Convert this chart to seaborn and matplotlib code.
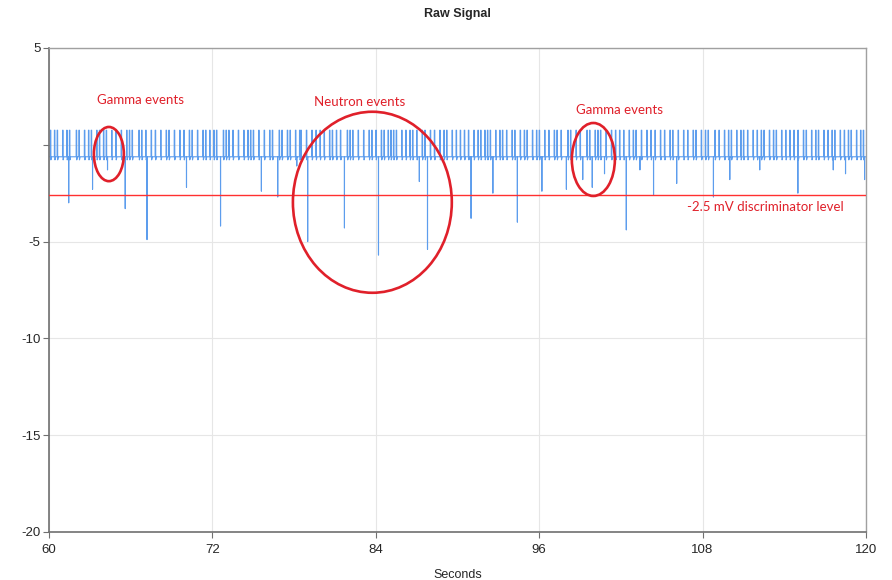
import numpy as np
import pandas as pd
import matplotlib
matplotlib.use("Agg")
import matplotlib.pyplot as plt
from matplotlib.patches import Ellipse
import seaborn as sns

# ---- data ----
baseline_mv = -0.62
undershoot_mv = -0.78
pulse_peak_mv = 0.75
pulse_times = [60.1, 60.4, 60.6, 61.0, 61.3, 61.5, 62.0, 62.2, 62.6, 62.9, 63.1, 63.5, 63.7, 64.0,
               64.2, 64.6, 64.9, 65.3, 65.7, 65.9, 66.1, 66.6, 66.8, 67.1, 67.5, 67.8, 68.2, 68.6,
               68.8, 69.2, 69.6, 69.9, 70.3, 70.5, 70.9, 71.3, 71.5, 71.8, 72.1, 72.3, 72.8, 73.0,
               73.2, 73.5, 73.9, 74.3, 74.6, 74.8, 75.0, 75.4, 75.8, 76.2, 76.4, 76.9, 77.1, 77.5,
               77.7, 78.1, 78.4, 78.5, 78.9, 79.3, 79.6, 79.9, 80.2, 80.6, 80.8, 81.1, 81.4, 81.9,
               82.1, 82.3, 82.7, 83.1, 83.5, 83.7, 84.0, 84.4, 84.6, 84.9, 85.1, 85.3, 85.5, 85.9,
               86.2, 86.5, 86.7, 87.0, 87.4, 87.6, 88.0, 88.3, 88.7, 89.0, 89.2, 89.6, 89.9, 90.2,
               90.5, 90.8, 91.2, 91.5, 91.7, 92.0, 92.2, 92.4, 92.8, 93.1, 93.3, 93.6, 94.0, 94.2,
               94.6, 94.9, 95.1, 95.5, 95.8, 96.0, 96.4, 96.7, 97.1, 97.3, 97.6, 98.1, 98.3, 98.7,
               99.0, 99.5, 99.7, 100.1, 100.3, 100.5, 100.9, 101.3, 101.6, 101.9, 102.2, 102.6,
               102.9, 103.1, 103.5, 103.9, 104.2, 104.5, 104.9, 105.2, 105.6, 105.8, 106.2, 106.6,
               106.9, 107.3, 107.5, 107.9, 108.2, 108.4, 108.9, 109.2, 109.6, 109.9, 110.1, 110.5,
               110.8, 111.0, 111.3, 111.7, 112.0, 112.3, 112.5, 112.9, 113.2, 113.4, 113.8, 114.1,
               114.4, 114.7, 115.0, 115.4, 115.6, 116.0, 116.3, 116.5, 116.9, 117.2, 117.5, 117.7,
               118.1, 118.4, 118.7, 118.9, 119.3, 119.6, 119.8]
dip_times = [61.45, 63.2, 64.3, 65.6, 67.2, 70.1, 72.6, 75.6, 76.8, 78.2, 79.0, 81.7, 84.2,
             87.2, 87.8, 91.0, 92.6, 94.4, 96.2, 98.0, 99.2, 99.9, 100.8, 102.4, 103.4, 104.4,
             106.1, 108.8, 110.0, 112.2, 115.0, 117.6, 118.5, 119.9]
dip_values = [-3.0, -2.3, -1.3, -3.3, -4.9, -2.2, -4.2, -2.4, -2.7, -1.1, -5.0, -4.3, -5.7,
              -1.9, -5.4, -3.8, -2.5, -4.0, -2.4, -2.3, -1.8, -2.2, -1.5, -4.4, -1.3, -2.6,
              -2.0, -2.7, -1.8, -1.3, -2.5, -1.3, -1.5, -1.8]
discriminator_mv = -2.6
x_ticks = [60, 72, 84, 96, 108, 120]
y_ticks = [5, 0, -5, -10, -15, -20]
y_tick_labels = ["5", "", "-5", "-10", "-15", "-20"]

# ---- build the trace from the event lists ----
pts = [(60.0, baseline_mv), (120.0, baseline_mv)]
for t in pulse_times:
    pts += [(t - 0.004, baseline_mv), (t, pulse_peak_mv), (t + 0.035, pulse_peak_mv),
            (t + 0.04, undershoot_mv), (t + 0.09, baseline_mv)]
for t, v in zip(dip_times, dip_values):
    pts += [(t - 0.12, baseline_mv), (t - 0.004, baseline_mv), (t, v), (t + 0.004, baseline_mv)]
pts.sort()
df = pd.DataFrame(pts, columns=["Seconds", "mV"])

sns.set_theme(style="white")
plt.rcParams["font.family"] = ["Liberation Sans", "DejaVu Sans"]

fig = plt.figure(figsize=(8.92, 5.8), dpi=100)
ax = fig.add_axes([0.0549, 0.0828, 0.9159, 0.8345])

ax.grid(True, color="#e6e6e6", linewidth=0.8)
ax.set_axisbelow(True)
sns.lineplot(data=df, x="Seconds", y="mV", estimator=None, sort=False, ax=ax,
             color="#5d9ded", linewidth=0.8)
ax.axhline(discriminator_mv, color="#ff3030", linewidth=1.0, zorder=5)

ax.set_xlim(60, 120)
ax.set_ylim(-20, 5)
ax.set_xticks(x_ticks)
ax.set_xticklabels([str(v) for v in x_ticks])
ax.set_yticks(y_ticks)
ax.set_yticklabels(y_tick_labels)
ax.tick_params(axis="both", labelsize=9.5, length=4, width=0.8, color="#707070",
               direction="out", bottom=True, left=True)
ax.tick_params(axis="x", pad=5)
ax.tick_params(axis="y", pad=2)
for s in ["left", "bottom"]:
    ax.spines[s].set_color("#707070")
    ax.spines[s].set_linewidth(1.2)
for s in ["top", "right"]:
    ax.spines[s].set_color("#a0a0a0")
    ax.spines[s].set_linewidth(1.0)

ax.set_xlabel("Seconds", fontsize=9, labelpad=9)
ax.set_ylabel("")
ax.set_title("Raw Signal", fontsize=9, fontweight="bold", pad=22)

red = "#e0202a"
for (cx, cy, w, h) in [(64.4, -0.48, 2.2, 2.8), (83.75, -2.97, 11.67, 9.35),
                       (99.98, -0.76, 3.16, 3.77)]:
    ax.add_patch(Ellipse((cx, cy), w, h, fill=False, edgecolor=red, linewidth=1.9, zorder=6))

afont = ["Lato", "DejaVu Sans"]
ax.text(66.7, 2.3, "Gamma events", color=red, fontsize=9.5, ha="center", va="center", family=afont)
ax.text(82.8, 2.2, "Neutron events", color=red, fontsize=9.5, ha="center", va="center", family=afont)
ax.text(101.9, 1.8, "Gamma events", color=red, fontsize=9.5, ha="center", va="center", family=afont)
ax.text(112.6, -3.2, "-2.5 mV discriminator level", color=red, fontsize=9.5, ha="center",
        va="center", family=afont)

fig.savefig("out.png", dpi=100)
